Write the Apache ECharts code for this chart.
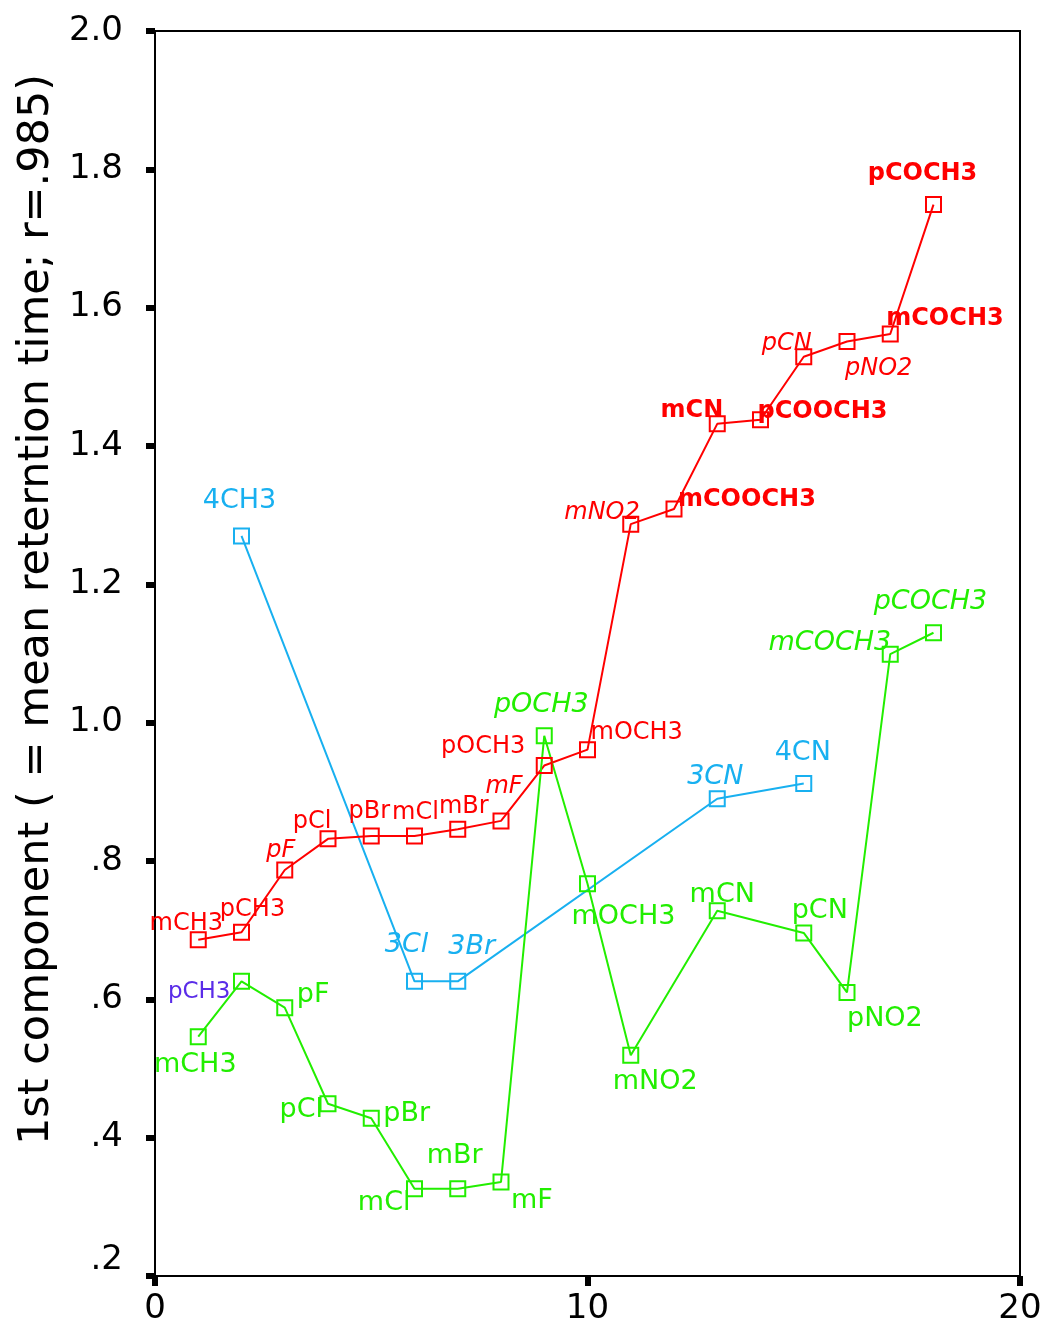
<!DOCTYPE html>
<html>
<head>
<meta charset="utf-8">
<script src="https://cdn.jsdelivr.net/npm/echarts@6/dist/echarts.min.js"></script>
<style>
  html, body { margin: 0; padding: 0; background: #fff; }
  #chart { width: 1040px; height: 1329px; }
</style>
</head>
<body>
<div id="chart"></div>
<script>
// ---- data ----
var redX = [1, 2, 3, 4, 5, 6, 7, 8, 9, 10, 11, 12, 13, 14, 15, 16, 17, 18];
var redY = [0.686, 0.697, 0.787, 0.832, 0.836, 0.836, 0.846, 0.858, 0.938, 0.961,
            1.287, 1.309, 1.432, 1.438, 1.529, 1.551, 1.562, 1.749];
var redNames = ['mCH3', 'pCH3', 'pF', 'pCl', 'pBr', 'mCl', 'mBr', 'mF', 'pOCH3', 'mOCH3',
                'mNO2', 'mCOOCH3', 'mCN', 'pCOOCH3', 'pCN', 'pNO2', 'mCOCH3', 'pCOCH3'];

var greenX = [1, 2, 3, 4, 5, 6, 7, 8, 9, 10, 11, 13, 15, 16, 17, 18];
var greenY = [0.546, 0.626, 0.588, 0.449, 0.428, 0.326, 0.326, 0.336, 0.981, 0.767,
              0.519, 0.728, 0.696, 0.610, 1.099, 1.130];
var greenNames = ['mCH3', 'pCH3', 'pF', 'pCl', 'pBr', 'mCl', 'mBr', 'mF', 'pOCH3', 'mOCH3',
                  'mNO2', 'mCN', 'pCN', 'pNO2', 'mCOCH3', 'pCOCH3'];

var blueX = [2, 6, 7, 13, 15];
var blueY = [1.270, 0.626, 0.626, 0.890, 0.912];
var blueNames = ['4CH3', '3Cl', '3Br', '3CN', '4CN'];

var yTicks = ['.2', '.4', '.6', '.8', '1.0', '1.2', '1.4', '1.6', '1.8', '2.0'];

// ---- label placement (style only): [dx, dy, align, look] ----
var redLab = [
  [-12, -16, 'center'], [11, -22, 'center'], [-4, -19, 'center', 'i'], [-16, -17, 'center'],
  [-2, -24, 'center'], [1, -23, 'center'], [6, -22, 'center'], [3, -34, 'center', 'i'],
  [-19, -19, 'right'], [3, -17, 'left'], [9, -11, 'right', 'i'], [4, -9, 'left', 'b'],
  [6, -13, 'right', 'b'], [-3, -8, 'left', 'b'], [8, -13, 'right', 'i'], [-2, 27, 'left', 'i'],
  [-4, -15, 'left', 'b'], [-11, -31, 'center', 'b']
];
var greenLab = [
  [-3, 28, 'center'], [-11, 11, 'right', 'v'], [12, -13, 'left'], [-5, 6, 'right'],
  [12, -4, 'left'], [-4, 14, 'right'], [-3, -33, 'center'], [10, 19, 'left'],
  [-3, -31, 'center', 'i'], [-16, 33, 'left'], [-18, 27, 'left'], [5, -16, 'center'],
  [16, -22, 'center'], [0, 27, 'left'], [1, -11, 'right', 'i'], [-3, -31, 'center', 'i']
];
var blueLab = [
  [-2, -35, 'center'], [-8, -36, 'center', 'i'], [14, -34, 'center', 'i'],
  [-2, -22, 'center', 'i'], [-1, -31, 'center']
];

var RED = '#ff0000', GREEN = '#22ee00', BLUE = '#18b0f0', VIOLET = '#5a2ce8';
var FONT = 'DejaVu Sans';

function buildData(xs, ys, names, labs, color, size) {
  return xs.map(function (x, i) {
    var l = labs[i];
    var bold = l[3] === 'b';
    return {
      value: [x, ys[i]],
      name: names[i],
      label: {
        show: true,
        position: 'inside',
        align: l[2],
        verticalAlign: 'middle',
        formatter: names[i],
        color: l[3] === 'v' ? VIOLET : color,
        fontStyle: l[3] === 'i' ? 'italic' : 'normal',
        fontWeight: bold ? 'bold' : 'normal',
        fontFamily: FONT,
        fontSize: l[3] === 'v' ? 23 : size
      }
    };
  });
}

function makeSeries(xs, ys, names, labs, color, size) {
  return {
    type: 'line',
    data: buildData(xs, ys, names, labs, color, size),
    symbol: 'rect',
    symbolSize: 15,
    showAllSymbol: true,
    itemStyle: { color: 'transparent', borderColor: color, borderWidth: 2 },
    lineStyle: { color: color, width: 2 },
    labelLayout: function (p) {
      var l = labs[p.dataIndex];
      return { dx: l[0], dy: l[1], hideOverlap: false };
    },
    emphasis: { disabled: true },
    animation: false
  };
}

var chart = echarts.init(document.getElementById('chart'));
chart.setOption({
  animation: false,
  grid: {
    left: 155, right: 20, top: 31, bottom: 53,
    outerBoundsMode: 'none',
    show: true, borderColor: '#000', borderWidth: 2, backgroundColor: '#fff'
  },
  xAxis: {
    type: 'value', min: 0, max: 20, interval: 10,
    splitLine: { show: false },
    axisLine: { lineStyle: { color: '#000', width: 2 } },
    axisTick: { show: true, length: 10, lineStyle: { color: '#000', width: 6 } },
    axisLabel: { color: '#000', fontSize: 34, fontFamily: FONT, margin: 16 }
  },
  yAxis: {
    type: 'value', min: 0.2, max: 2.0, interval: 0.2,
    name: '1st component ( = mean reterntion time; r=.985)',
    nameLocation: 'middle',
    nameGap: 97,
    nameTextStyle: { color: '#000', fontSize: 43, fontFamily: FONT, padding: [0, 0, 0, 88] },
    splitLine: { show: false },
    axisLine: { lineStyle: { color: '#000', width: 2 } },
    axisTick: { show: true, length: 9, lineStyle: { color: '#000', width: 6 } },
    axisLabel: {
      color: '#000', fontSize: 34, fontFamily: FONT, margin: 32,
      formatter: function (v) {
        var t = yTicks[Math.round((v - 0.2) / 0.2)];
        return t === '.2' ? '{lo|' + t + '}' : t;
      },
      rich: { lo: { fontSize: 34, fontFamily: FONT, color: '#000', padding: [0, 0, 32, 0] } }
    }
  },
  series: [
    makeSeries(blueX, blueY, blueNames, blueLab, BLUE, 27),
    makeSeries(redX, redY, redNames, redLab, RED, 24),
    makeSeries(greenX, greenY, greenNames, greenLab, GREEN, 27)
  ]
});
</script>
</body>
</html>
